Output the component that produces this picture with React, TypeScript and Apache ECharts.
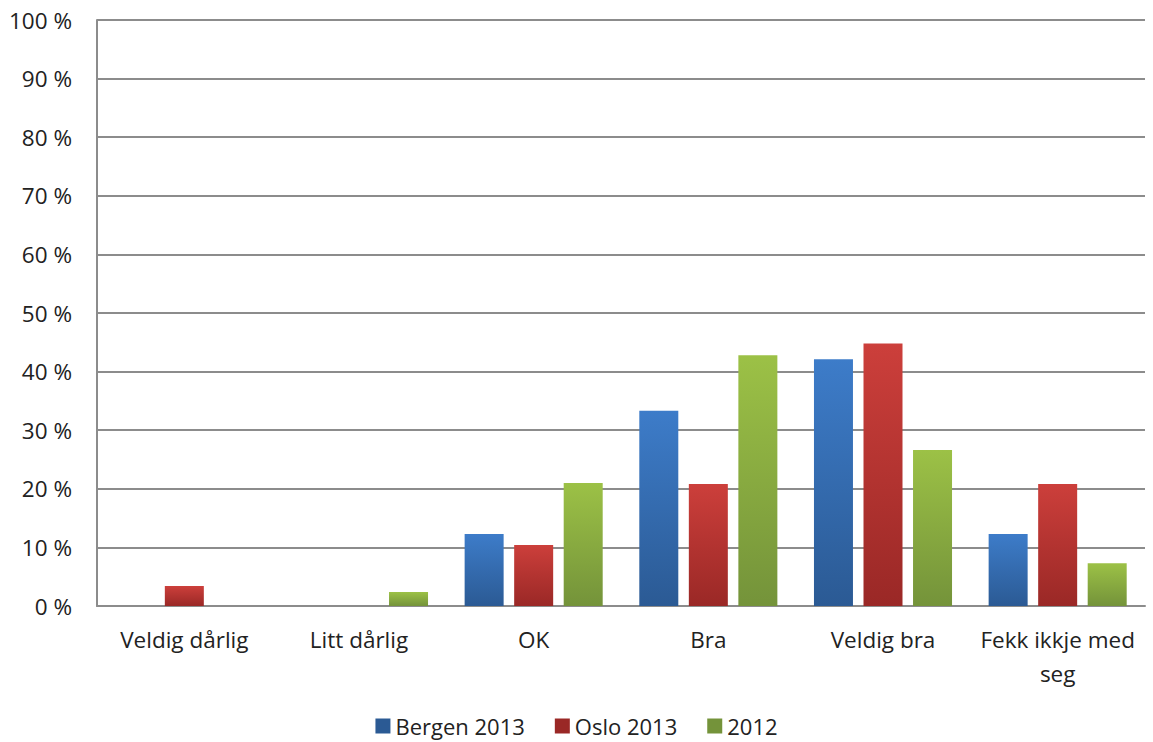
import React, { useEffect, useRef } from "react";
import * as echarts from "echarts";

const categories = ["Veldig dårlig", "Litt dårlig", "OK", "Bra", "Veldig bra", "Fekk ikkje med\nseg"];
const bergen2013 = [0, 0, 12.3, 33.3, 42.1, 12.3];
const oslo2013 = [3.4, 0, 10.4, 20.8, 44.8, 20.8];
const y2012 = [0, 2.4, 21.0, 42.8, 26.6, 7.3];
const seriesNames = ["Bergen 2013", "Oslo 2013", "2012"];

const grad = (top: string, bottom: string) =>
  new echarts.graphic.LinearGradient(0, 0, 0, 1, [
    { offset: 0, color: top },
    { offset: 1, color: bottom },
  ]);

export default function App() {
  const ref = useRef<HTMLDivElement>(null);
  useEffect(() => {
    if (!ref.current) return;
    const chart = echarts.init(ref.current, null, { renderer: "svg" });
    const font = "'Open Sans', sans-serif";
    const colors = [
      ["#3d7cc9", "#2b5a94"],
      ["#cc3f3b", "#9a2826"],
      ["#9cc146", "#74933a"],
    ];
    const data = [bergen2013, oslo2013, y2012];
    chart.setOption({
      animation: false,
      textStyle: { fontFamily: font },
      grid: { left: 97, right: 8, top: 20, bottom: 136, containLabel: false },
      legend: {
        bottom: 0,
        left: "center",
        itemWidth: 15,
        itemHeight: 15,
        itemGap: 30,
        icon: "rect",
        textStyle: { fontSize: 22, color: "#222", fontFamily: font },
        data: seriesNames.map((n, i) => ({ name: n, itemStyle: { color: colors[i][1] } })),
      },
      xAxis: {
        type: "category",
        data: categories,
        axisLine: { lineStyle: { color: "#8c8c8c", width: 2 } },
        axisTick: { show: false },
        axisLabel: {
          interval: 0,
          fontSize: 22.5,
          color: "#222",
          margin: 16,
          lineHeight: 34,
          fontFamily: font,
        },
      },
      yAxis: {
        type: "value",
        min: 0,
        max: 100,
        interval: 10,
        axisLine: { show: true, lineStyle: { color: "#8c8c8c", width: 2 } },
        axisTick: { show: false },
        splitLine: { lineStyle: { color: "#8c8c8c", width: 2 } },
        axisLabel: {
          fontSize: 22.5,
          color: "#222",
          margin: 25,
          fontFamily: font,
          formatter: (v: number) => `${v} %`,
        },
      },
      series: seriesNames.map((name, i) => ({
        name,
        type: "bar",
        data: data[i],
        barWidth: 39,
        barGap: "27%",
        itemStyle: { color: grad(colors[i][0], colors[i][1]) },
      })),
    });
    return () => chart.dispose();
  }, []);
  return <div ref={ref} style={{ width: 1153, height: 742, position: "absolute", left: 0, top: 0 }} />;
}
